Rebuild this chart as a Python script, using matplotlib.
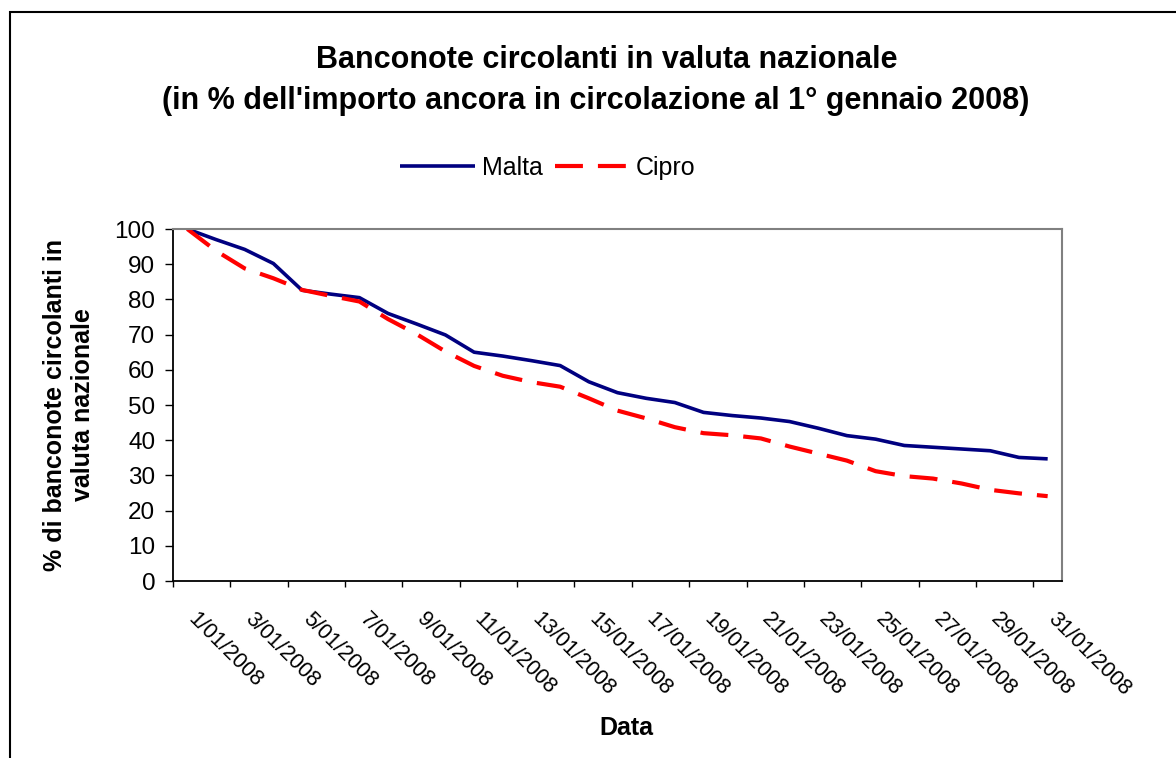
import numpy as np
import matplotlib.pyplot as plt
from matplotlib.patches import Rectangle
from matplotlib.transforms import ScaledTranslation

plt.rcParams['font.family'] = ['Liberation Sans', 'DejaVu Sans']

##--------------------------------------------------------------------------##
# data (% of notes still in circulation)
giorni = [f"{d}/01/2008" for d in range(1, 32)]

malta = [100, 97.0, 94.2, 90.2, 82.6, 81.5, 80.5, 76.0, 73.0, 69.9,
         65.0, 63.9, 62.6, 61.2, 56.6, 53.5, 51.9, 50.7, 47.9, 47.0,
         46.3, 45.3, 43.4, 41.3, 40.3, 38.5, 38.0, 37.5, 37.0, 35.1, 34.7]

cipro = [100, 93.8, 88.8, 86.0, 82.7, 81.0, 79.4, 74.4, 70.1, 65.2,
         61.1, 58.3, 56.5, 55.2, 51.9, 48.4, 46.2, 43.7, 42.0, 41.4,
         40.5, 38.2, 36.2, 34.2, 31.2, 29.8, 29.1, 27.7, 25.9, 24.9, 24.1]

y_ticks = [0, 10, 20, 30, 40, 50, 60, 70, 80, 90, 100]

##--------------------------------------------------------------------------##
# figure and axes
W, H = 1176, 758
fig = plt.figure(figsize=(W / 100, H / 100), dpi=100)
ax = fig.add_axes([173 / W, 1 - 581 / H, (1062 - 173) / W, (581 - 229) / H])

x = np.arange(len(giorni))
ax.plot(x, malta, color='#000080', lw=2.6, label='Malta', solid_capstyle='butt')
ax.plot(x, cipro, color='#ff0000', lw=3.0, label='Cipro', dashes=(6.7, 3.6))

ax.set_xlim(-0.5, len(giorni) - 0.5)
ax.set_ylim(0, 100)

# y axis
ax.set_yticks(y_ticks)
ax.tick_params(axis='y', direction='out', length=5.8, width=1, pad=7, labelsize=17.5)

# x axis: tick marks at category boundaries, labels every second day
ax.set_xticks(np.arange(-0.5, len(giorni) - 1, 2), minor=True)
ax.set_xticks(x[::2])
ax.set_xticklabels(giorni[::2])
ax.tick_params(axis='x', which='minor', direction='out', length=4.3, width=1)
ax.tick_params(axis='x', which='major', length=0, pad=20, labelsize=15.5)
shift = ScaledTranslation(11 / 100, 0, fig.dpi_scale_trans)
for lab in ax.get_xticklabels():
    lab.set_rotation(-45)
    lab.set_ha('left')
    lab.set_va('top')
    lab.set_rotation_mode('anchor')
    lab.set_transform(lab.get_transform() + shift)

for s in ['left', 'bottom']:
    ax.spines[s].set_color('black')
    ax.spines[s].set_linewidth(1.3)
for s in ['top', 'right']:
    ax.spines[s].set_color('#808080')
    ax.spines[s].set_linewidth(1.5)

##--------------------------------------------------------------------------##
# texts
fig.text(607 / W, 1 - 60 / H, 'Banconote circolanti in valuta nazionale',
         ha='center', va='center', fontsize=22, fontweight='bold')
fig.text(596 / W, 1 - 101 / H,
         "(in % dell'importo ancora in circolazione al 1° gennaio 2008)",
         ha='center', va='center', fontsize=22, fontweight='bold')

fig.text(69 / W, 1 - 405 / H, '% di banconote circolanti in\nvaluta nazionale',
         ha='center', va='center', rotation=90, fontsize=18, fontweight='bold',
         linespacing=1.25)
fig.text(626 / W, 1 - 728 / H, 'Data', ha='center', va='center',
         fontsize=18, fontweight='bold')

fig.legend(loc='center', bbox_to_anchor=(548 / W, 1 - 168 / H), ncol=2,
           frameon=False, fontsize=18, handlelength=3.0, handletextpad=0.25,
           columnspacing=0.5)

# outer chart border (only top and left visible in the reference)
fig.patches.append(Rectangle((10 / W, -0.1), 1.2, 1.1 - 12 / H,
                             transform=fig.transFigure, fill=False,
                             lw=1.5, edgecolor='black'))

fig.savefig('out.png', dpi=100)
